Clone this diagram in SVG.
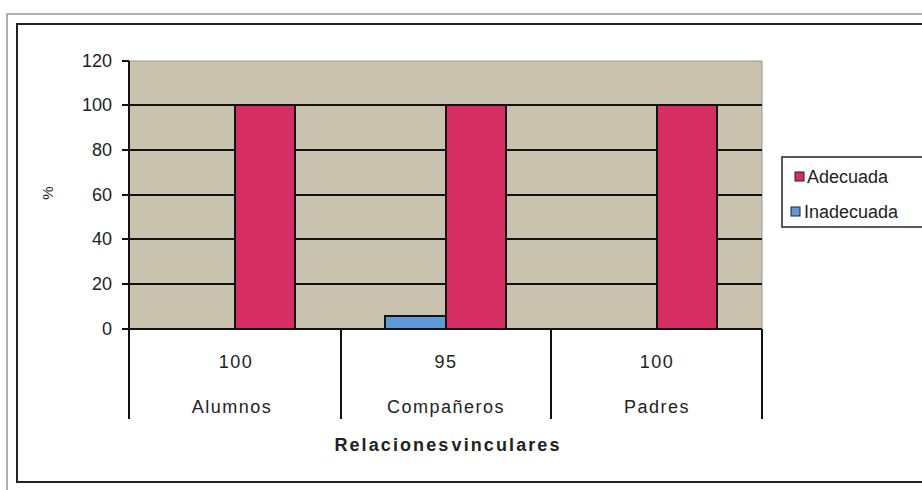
<svg xmlns="http://www.w3.org/2000/svg" width="922" height="490" viewBox="0 0 922 490">
<style>
text{font-family:"Liberation Sans",Arial,sans-serif;fill:#222;}
.ax{font-size:18px;text-anchor:end;}
.cat{font-size:18px;text-anchor:middle;letter-spacing:1.5px;}
.grid{stroke:#111;stroke-width:2;fill:none;}
.red{fill:#D62D62;stroke:#111;stroke-width:2;}
.blue{fill:#5E9BD6;stroke:#111;stroke-width:2;}
</style>
<rect x="0" y="0" width="922" height="490" fill="#fff"/>
<g id="frame">
<rect x="7" y="14" width="930" height="490" fill="none" stroke="#999" stroke-width="1.5"/>
<rect x="17" y="24" width="920" height="458" fill="none" stroke="#222" stroke-width="2"/>
</g>
<g id="plot">
<rect x="129" y="61" width="633" height="268" fill="#C9C2AE" stroke="#9a9a90" stroke-width="1"/>
</g>
<g id="connectors">
<path class="grid" d="M122 105H762M122 150H762M122 195H762M122 239H762M122 284H762M122 329H762M122 61H129"/>
<path class="grid" d="M129 61V419M341 329V419M551 329V419M762 329V419"/>
</g>
<g id="bars">
<rect class="red" x="235" y="105" width="60" height="224"/>
<rect class="blue" x="385" y="316" width="61" height="13"/>
<rect class="red" x="446" y="105" width="60" height="224"/>
<rect class="red" x="657" y="105" width="60" height="224"/>
</g>
<g id="yaxis">
<text class="ax" x="112" y="67">120</text>
<text class="ax" x="112" y="111">100</text>
<text class="ax" x="112" y="156">80</text>
<text class="ax" x="112" y="201">60</text>
<text class="ax" x="112" y="245">40</text>
<text class="ax" x="112" y="290">20</text>
<text class="ax" x="112" y="335">0</text>
<text x="53" y="193" font-size="15" text-anchor="middle" transform="rotate(-90 53 193)">%</text>
</g>
<g id="categories">
<text class="cat" x="236" y="368">100</text>
<text class="cat" x="446" y="368">95</text>
<text class="cat" x="657" y="368">100</text>
<text class="cat" x="232" y="413">Alumnos</text>
<text class="cat" x="446" y="413">Compañeros</text>
<text class="cat" x="657" y="413">Padres</text>
<text x="448" y="451" font-size="18" font-weight="bold" text-anchor="middle" letter-spacing="2.1" word-spacing="-6">Relaciones vinculares</text>
</g>
<g id="legend">
<rect x="782" y="157" width="160" height="70" fill="#fff" stroke="#222" stroke-width="1.5"/>
<rect x="795" y="172" width="9" height="9" fill="#D62D62" stroke="#222" stroke-width="1"/>
<text x="807" y="183" font-size="18">Adecuada</text>
<rect x="791" y="207" width="9" height="9" fill="#5E9BD6" stroke="#222" stroke-width="1"/>
<text x="804" y="218" font-size="18">Inadecuada</text>
</g>
</svg>
